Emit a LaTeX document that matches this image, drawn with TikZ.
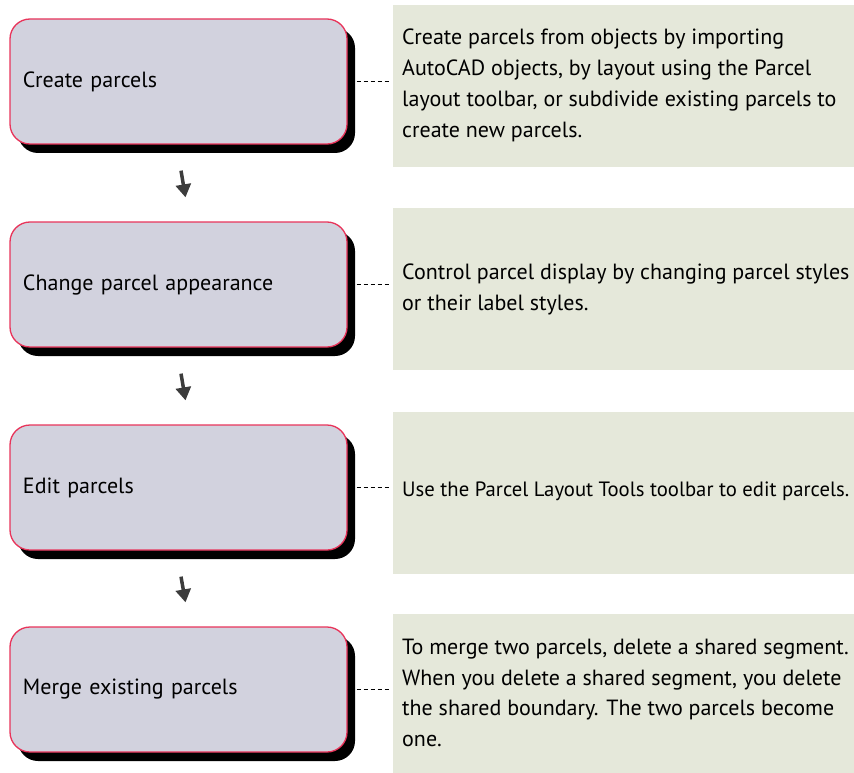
\documentclass[tikz,border=0pt]{standalone}
\usepackage{fontspec}
\setmainfont{PT Sans}
\usetikzlibrary{shadows,arrows.meta,calc}
\definecolor{boxfill}{HTML}{D2D2DE}
\definecolor{boxline}{HTML}{E8345A}
\definecolor{notefill}{HTML}{E5E8DA}
\definecolor{arrowgray}{HTML}{3C3C3C}
\begin{document}
\begin{tikzpicture}[x=1pt,y=-1pt,
  stepbox/.style={draw=boxline, line width=1.3pt, fill=boxfill, rounded corners=20pt,
    minimum width=337pt, minimum height=125pt, text width=311pt, inner xsep=13pt,
    align=left, font=\fontsize{22}{31}\selectfont,
    drop shadow={shadow xshift=8pt, shadow yshift=-9pt, fill=black, opacity=1}},
  notebox/.style={fill=notefill, minimum width=480pt, minimum height=162pt,
    anchor=north west, inner sep=0pt},
  notetext/.style={anchor=west, align=left, inner sep=0pt,
    font=\fontsize{22}{31}\selectfont},
  link/.style={black, line width=1.3pt, dash pattern=on 4.5pt off 2.5pt,
    shorten <=9pt, shorten >=3pt},
  flowarrow/.style={arrowgray, line width=3.5pt,
    -{Triangle[width=15pt,length=13pt]}}]
\useasboundingbox (0,0) rectangle (854,773);

\node[notebox] (t1) at (393,5) {};
\node[notebox] (t2) at (393,208) {};
\node[notebox] (t3) at (393,412) {};
\node[notebox] (t4) at (393,614) {};

\node[stepbox] (b1) at (178.5,81.5) {Create parcels};
\node[stepbox] (b2) at (178.5,284.5) {Change parcel appearance};
\node[stepbox] (b3) at (178.5,487.5) {Edit parcels};
\node[stepbox] (b4) at (178.5,689.5) {Merge existing parcels};

\node[notetext] (d1) at (402,85.5) {Create parcels from objects by importing\\AutoCAD objects, by layout using the Parcel\\layout toolbar, or subdivide existing parcels to\\create new parcels.};
\node[notetext] (d2) at (402,289) {Control parcel display by changing parcel styles\\or their label styles.};
\node[notetext, font=\fontsize{20.7}{31}\selectfont] (d3) at (402,491) {Use the Parcel Layout Tools toolbar to edit parcels.};
\node[notetext, font=\fontsize{22}{30.5}\selectfont] (d4) at (402,693) {To merge two parcels, delete a shared segment.\\When you delete a shared segment, you delete\\the shared boundary. The two parcels become\\one.};

\draw[link] (b1.east) -- (b1.east -| t1.west);
\draw[link] (b2.east) -- (b2.east -| t2.west);
\draw[link] (b3.east) -- (b3.east -| t3.west);
\draw[link] (b4.east) -- (b4.east -| t4.west);

\draw[flowarrow] ($(b1.south)+(2.5,26)$) -- ($(b2.north)+(7,-24)$);
\draw[flowarrow] ($(b2.south)+(2.5,26)$) -- ($(b3.north)+(7,-24)$);
\draw[flowarrow] ($(b3.south)+(2.5,26)$) -- ($(b4.north)+(7,-24)$);
\end{tikzpicture}
\end{document}
